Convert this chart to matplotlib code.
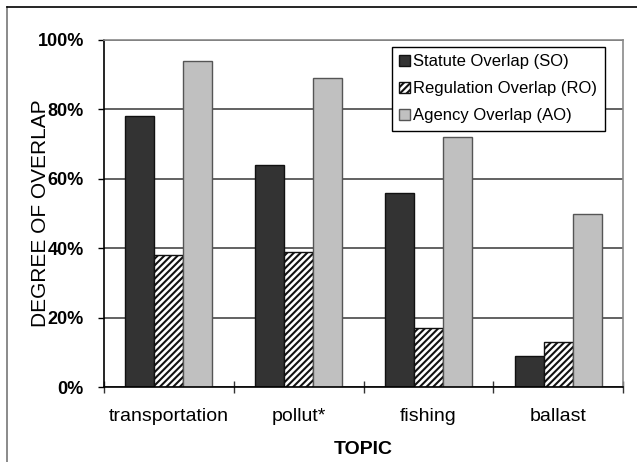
import numpy as np
import matplotlib
matplotlib.use("Agg")
import matplotlib.pyplot as plt
from matplotlib.lines import Line2D
from matplotlib.ticker import PercentFormatter

plt.rcParams['font.family'] = ['Liberation Sans', 'DejaVu Sans']
plt.rcParams['hatch.linewidth'] = 1.5
plt.rcParams['hatch.color'] = '#111111'

topics = ['transportation', 'pollut*', 'fishing', 'ballast']
statute = [78, 64, 56, 9]
regulation = [38, 39, 17, 13]
agency = [94, 89, 72, 50]
series_names = ['Statute Overlap (SO)', 'Regulation Overlap (RO)', 'Agency Overlap (AO)']

fig = plt.figure(figsize=(6.37, 4.62), dpi=100)
ax = fig.add_axes([104 / 637, 1 - 387 / 462, 519 / 637, 347 / 462])

x = np.arange(len(topics))
w = 0.223
ax.bar(x - w, statute, w, color='#333333', edgecolor='#111111', linewidth=1, label=series_names[0])
ax.bar(x, regulation, w, color='white', edgecolor='#111111', linewidth=1, hatch='/////',
       label=series_names[1])
ax.bar(x + w, agency, w, color='#c0c0c0', edgecolor='#555555', linewidth=1, label=series_names[2])

ax.set_xlim(-0.5, len(topics) - 0.5)
ax.set_ylim(0, 100)
ax.set_yticks(range(0, 101, 20))
ax.yaxis.set_major_formatter(PercentFormatter(decimals=0))
ax.yaxis.grid(True, color='#555555', linewidth=1.3)
ax.set_axisbelow(True)

ax.set_xticks(x)
ax.set_xticklabels(topics, fontsize=14)
ax.set_xticks(np.arange(-0.5, len(topics), 1), minor=True)
ax.tick_params(axis='x', which='major', length=0, pad=15)
ax.tick_params(axis='x', which='minor', direction='inout', length=8, width=1, color='#333333')
ax.tick_params(axis='y', direction='out', length=4.5, width=1, pad=10, labelsize=13)
for t in ax.get_yticklabels():
    t.set_fontweight('bold')

ax.spines['left'].set_color('black')
ax.spines['bottom'].set_color('black')
ax.spines['top'].set_color('#8a8a8a')
ax.spines['right'].set_color('#8a8a8a')
for s in ax.spines.values():
    s.set_linewidth(1.2)

ax.set_ylabel('DEGREE OF OVERLAP', fontsize=15)
ax.yaxis.set_label_coords(-0.104, 0.5)
ax.set_xlabel('TOPIC', fontsize=14, fontweight='bold')
ax.xaxis.set_label_coords(0.5, -0.155)

leg = ax.legend(loc='upper right', bbox_to_anchor=(0.965, 0.98), fontsize=12,
                frameon=True, fancybox=False, framealpha=1, edgecolor='black',
                handlelength=0.65, handleheight=0.65, handletextpad=0.2,
                labelspacing=0.72, borderpad=0.45, borderaxespad=0)
leg.get_frame().set_linewidth(1)

# outer chart frame
fig.add_artist(Line2D([7 / 637, 7 / 637], [0, 1 - 7 / 462], transform=fig.transFigure,
                      color='#777777', linewidth=1.2))
fig.add_artist(Line2D([7 / 637, 1], [1 - 7 / 462, 1 - 7 / 462], transform=fig.transFigure,
                      color='black', linewidth=1.2))

fig.savefig('out.png', dpi=100)
